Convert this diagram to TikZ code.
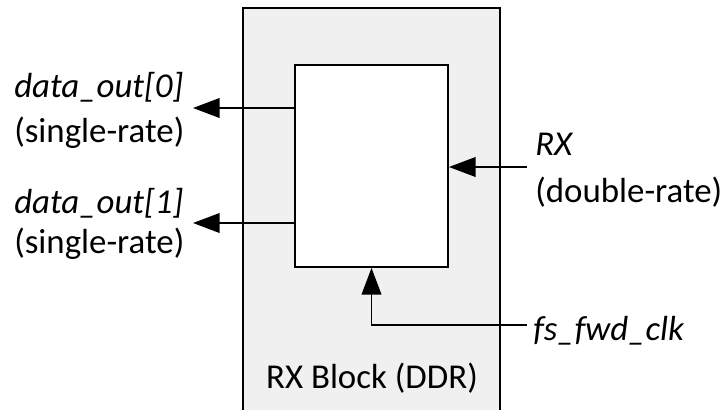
\documentclass[tikz,border=0pt]{standalone}
\usepackage{fontspec}
\setmainfont{Carlito}
\usetikzlibrary{arrows.meta}

\definecolor{blkgray}{RGB}{240,240,240}

\begin{document}
\begin{tikzpicture}[x=0.025cm,y=-0.025cm,
  sig/.style={line width=1.3pt,-{Triangle[length=19pt,width=14pt]}},
  lbl/.style={inner sep=0pt,anchor=base west,font=\fontsize{24.8}{28}\selectfont}]
\useasboundingbox (0,0) rectangle (728,409);
\begin{scope}
\clip (0,0) rectangle (728,409);
\draw[line width=1.3pt,fill=blkgray] (243,8) rectangle (500,440);
\end{scope}
\node[draw,fill=white,line width=1.3pt,inner sep=0pt,minimum width=3.825cm,minimum height=5.05cm] (latch) at (371.5,166) {};
\node[inner sep=0pt,anchor=base,font=\fontsize{24.8}{28}\selectfont] (blk) at (372,388) {RX Block (DDR)};
% outputs
\node[lbl] (d0) at (14,97) {\textit{data\_out[0]}};
\node[lbl] (d0r) at (14,142) {(single-rate)};
\node[lbl] (d1) at (14,213) {\textit{data\_out[1]}};
\node[lbl] (d1r) at (14,253) {(single-rate)};
\coordinate (q0) at (193,108);
\coordinate (q1) at (193,223);
\draw[sig] (latch.west |- q0) -- (q0);
\draw[sig] (latch.west |- q1) -- (q1);
% inputs
\node[lbl] (rx) at (535,155) {\textit{RX}};
\node[lbl] (rxr) at (535,202) {(double-rate)};
\node[lbl] (clk) at (533,340) {\textit{fs\_fwd\_clk}};
\coordinate (rxin) at (527,167);
\coordinate (clkin) at (527,325);
\draw[sig] (rxin) -- (latch.east |- rxin);
\draw[sig] (clkin) -| (latch.south);
\end{tikzpicture}
\end{document}
